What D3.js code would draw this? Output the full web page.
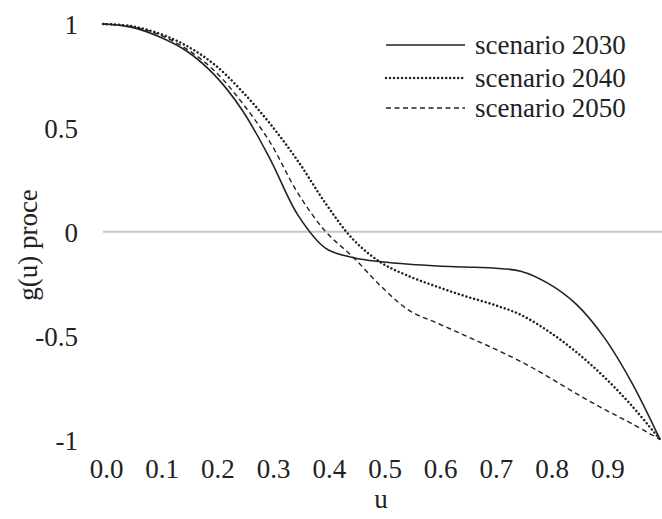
<!DOCTYPE html>
<html>
<head>
<meta charset="utf-8">
<script src="https://cdn.jsdelivr.net/npm/d3@7"></script>
<style>
  html, body { margin: 0; padding: 0; background: #fff; }
  svg { display: block; }
  text { font-family: "Liberation Serif", "Times New Roman", serif; fill: #222; }
</style>
</head>
<body>
<svg id="chart" width="662" height="519"></svg>
<script>
const uValues = [0, 0.05, 0.1, 0.15, 0.2, 0.25, 0.3, 0.35, 0.4, 0.45, 0.5, 0.55, 0.6, 0.65, 0.7, 0.75, 0.8, 0.85, 0.9, 0.95, 1.0];
const scenario2030 = [1, 0.985, 0.94, 0.87, 0.755, 0.585, 0.35, 0.08, -0.08, -0.125, -0.145, -0.157, -0.165, -0.17, -0.175, -0.19, -0.25, -0.35, -0.51, -0.73, -1];
const scenario2040 = [1, 0.99, 0.955, 0.895, 0.805, 0.675, 0.52, 0.34, 0.135, -0.04, -0.15, -0.215, -0.265, -0.31, -0.35, -0.40, -0.48, -0.58, -0.70, -0.84, -1];
const scenario2050 = [1, 0.988, 0.95, 0.88, 0.775, 0.62, 0.43, 0.185, 0.0, -0.125, -0.265, -0.38, -0.44, -0.50, -0.56, -0.625, -0.70, -0.78, -0.855, -0.925, -1];
const seriesNames = ["scenario 2030", "scenario 2040", "scenario 2050"];
const xTickValues = [0, 0.1, 0.2, 0.3, 0.4, 0.5, 0.6, 0.7, 0.8, 0.9];
const xTickLabels = ["0.0", "0.1", "0.2", "0.3", "0.4", "0.5", "0.6", "0.7", "0.8", "0.9"];
const yTickValues = [1, 0.5, 0, -0.5, -1];
const yTickLabels = ["1", "0.5", "0", "-0.5", "-1"];
const xTitle = "u";
const yTitle = "g(u) proce";

const svg = d3.select("#chart");
const x = d3.scaleLinear().domain([0, 1]).range([103, 660]);
const y = d3.scaleLinear().domain([-1, 1]).range([439.4, 24]);
const FONT = "'Liberation Serif', 'Times New Roman', serif";

// zero gridline
svg.append("line")
  .attr("x1", x(0)).attr("x2", 662)
  .attr("y1", y(0)).attr("y2", y(0))
  .attr("stroke", "#c6c6c6").attr("stroke-width", 2);

// axes (labels only)
const xAxis = d3.axisBottom(x).tickValues(xTickValues)
  .tickFormat((d, i) => xTickLabels[i]).tickSize(0).tickPadding(0);
const gx = svg.append("g").attr("transform", "translate(3,0)").call(xAxis);
gx.select(".domain").remove();
gx.selectAll("text")
  .attr("y", 478).attr("dy", null)
  .style("font-size", "27px").style("font-family", FONT).attr("fill", "#222");

const yAxis = d3.axisLeft(y).tickValues(yTickValues)
  .tickFormat((d, i) => yTickLabels[i]).tickSize(0).tickPadding(0);
const gy = svg.append("g").attr("transform", "translate(78,0)").call(yAxis);
gy.select(".domain").remove();
gy.selectAll("text")
  .attr("x", 0).attr("dy", "0.36em")
  .style("font-size", "27px").style("font-family", FONT).attr("fill", "#222");

// titles
svg.append("text").attr("x", 381).attr("y", 508).attr("text-anchor", "middle")
  .style("font-size", "27px").style("font-family", FONT).text(xTitle);
svg.append("text").attr("transform", "translate(37,245) rotate(-90)").attr("text-anchor", "middle")
  .style("font-size", "27px").style("font-family", FONT).text(yTitle);

// lines
const styles = [
  { dash: null, width: 1.6, cap: "butt" },
  { dash: "0.01 4", width: 2.5, cap: "round" },
  { dash: "5 3.5", width: 1.4, cap: "butt" }
];
const allSeries = [scenario2030, scenario2040, scenario2050];
const line = d3.line().x(d => x(d[0])).y(d => y(d[1])).curve(d3.curveCatmullRom.alpha(0.5));

allSeries.forEach((vals, i) => {
  const pts = uValues.map((u, j) => [u, vals[j]]);
  svg.append("path").datum(pts)
    .attr("d", line)
    .attr("fill", "none")
    .attr("stroke", "#222")
    .attr("stroke-width", styles[i].width)
    .attr("stroke-linecap", styles[i].cap)
    .attr("stroke-dasharray", styles[i].dash);
});

// legend
const legendY = [45, 78, 108];
seriesNames.forEach((name, i) => {
  svg.append("line")
    .attr("x1", 386).attr("x2", 465)
    .attr("y1", legendY[i]).attr("y2", legendY[i])
    .attr("stroke", "#222")
    .attr("stroke-width", styles[i].width)
    .attr("stroke-linecap", styles[i].cap)
    .attr("stroke-dasharray", styles[i].dash);
  svg.append("text").attr("x", 475).attr("y", legendY[i]).attr("dy", "0.34em")
    .style("font-size", "27px").style("font-family", FONT).text(name);
});
</script>
</body>
</html>
